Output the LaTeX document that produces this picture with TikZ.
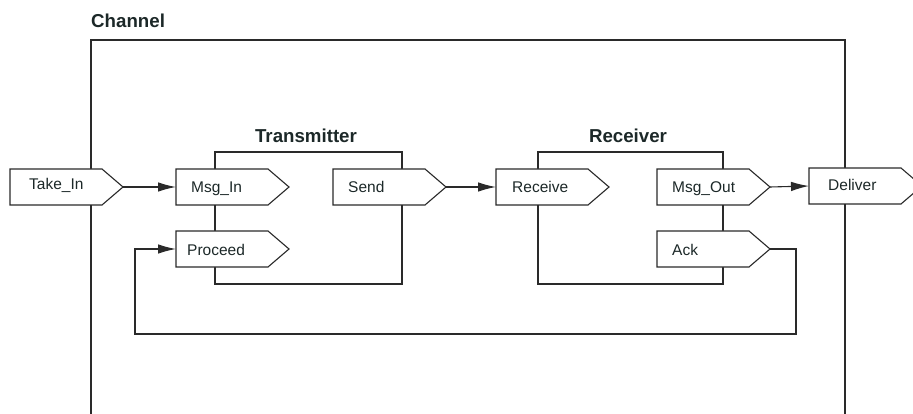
\documentclass[tikz,border=0pt]{standalone}
\usepackage{fontspec}
\setmainfont{Liberation Sans}
\usetikzlibrary{arrows.meta}
\definecolor{txt}{HTML}{1C2828}
\definecolor{ln}{HTML}{2A2A2A}
\tikzset{
  boxline/.style={draw=ln, line width=1.1pt},
  portline/.style={draw=ln, line width=1.1pt, fill=white},
  porttext/.style={text=txt, inner sep=0pt, font=\fontsize{15.5}{18}\selectfont, anchor=base west},
  titletext/.style={text=txt, inner sep=0pt, font=\fontsize{18.7}{22}\selectfont\bfseries},
  conn/.style={draw=ln, line width=1.1pt, -{Latex[length=18pt,width=9.5pt]}},
  plainconn/.style={draw=ln, line width=1.1pt}
}
% name, x-left, y-mid, label, text x, text baseline y
\newcommand{\portbox}[6]{%
  \path[portline] (#2,#3-18) -- (#2+92,#3-18) -- (#2+113,#3) -- (#2+92,#3+18) -- (#2,#3+18) -- cycle;
  \node[porttext] (#1) at (#5,#6) {#4};
  \coordinate (#1-w) at (#2,#3);
  \coordinate (#1-e) at (#2+113,#3);
}
\begin{document}
\begin{tikzpicture}[x=1pt,y=-1pt]
\useasboundingbox (0,0) rectangle (913,414);
\begin{scope}
\clip (0,0) rectangle (913,414);
% Channel frame (open at bottom)
\draw[boxline] (91,420) -- (91,40) -- (845,40) -- (845,420);
\node[titletext, anchor=base west] (channel) at (91,27.5) {Channel};
% Transmitter & Receiver frames
\draw[boxline] (215,152) rectangle (402,284);
\node[titletext, anchor=base] (transmitter) at (306,143) {Transmitter};
\draw[boxline] (538,152) rectangle (723,284);
\node[titletext, anchor=base] (receiver) at (628,143) {Receiver};
% ports
\portbox{takein}{10}{187}{Take\_In}{29}{190}
\portbox{msgin}{176}{187}{Msg\_In}{191}{193}
\portbox{proceed}{176}{249}{Proceed}{187}{255}
\portbox{send}{333}{187}{Send}{348}{193}
\portbox{receive}{496}{187}{Receive}{512}{193}
\portbox{msgout}{657}{187}{Msg\_Out}{672}{193}
\portbox{ack}{657}{249}{Ack}{672}{255}
\portbox{deliver}{809}{186}{Deliver}{828}{190.5}
% connectors
\draw[conn] (takein-e) -- (msgin-w);
\draw[conn] (send-e) -- (receive-w);
\draw[conn] (msgout-e) -- (deliver-w);
\coordinate (fb1) at (796,249);
\coordinate (fb2) at (796,334);
\coordinate (fb3) at (135,334);
\coordinate (fb4) at (135,249);
\draw[conn] (ack-e) -- (fb1) -- (fb2) -- (fb3) -- (fb4) -- (proceed-w);
\end{scope}
\end{tikzpicture}
\end{document}
